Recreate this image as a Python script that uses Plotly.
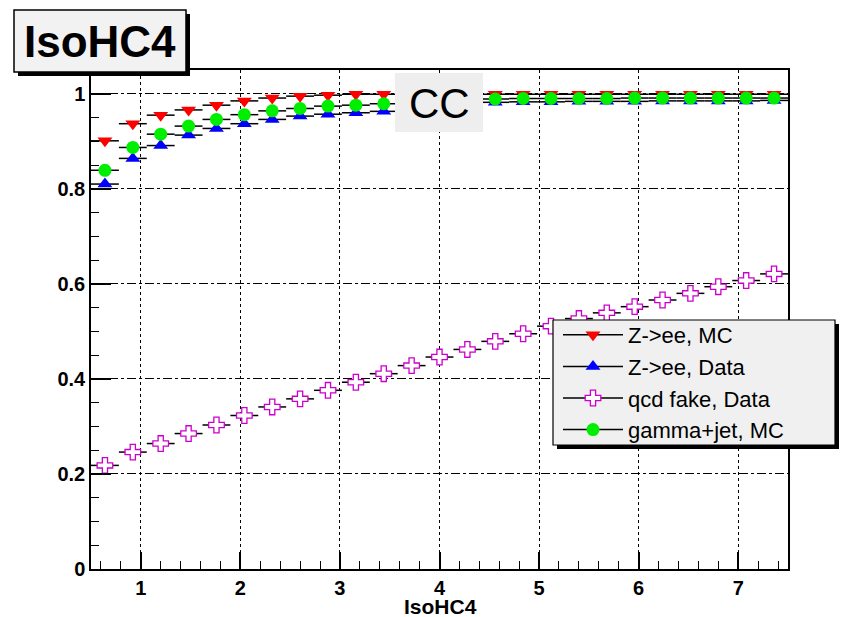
import plotly.graph_objects as go

# ---- data ----
x_centers = [0.64, 0.92, 1.20, 1.48, 1.76, 2.04, 2.32, 2.60, 2.88, 3.16, 3.44,
             3.72, 4.00, 4.28, 4.56, 4.84, 5.12, 5.40, 5.68, 5.96, 6.24, 6.52,
             6.80, 7.08, 7.36]
half_width = [0.14] * 25

zee_mc = [0.901, 0.937, 0.955, 0.966, 0.976, 0.985, 0.991, 0.995, 0.997, 0.999, 0.999,
          0.999, 0.999, 0.999, 0.999, 0.999, 0.999, 0.999, 0.999, 0.999, 0.999, 0.999,
          0.999, 0.999, 0.999]
zee_data = [0.810, 0.864, 0.891, 0.913, 0.927, 0.937, 0.946, 0.953, 0.957, 0.960, 0.963,
            0.968, 0.972, 0.976, 0.982, 0.983, 0.983, 0.984, 0.984, 0.984, 0.985, 0.985,
            0.985, 0.985, 0.986]
qcd_data = [0.218, 0.246, 0.264, 0.285, 0.303, 0.323, 0.341, 0.358, 0.376, 0.393, 0.411,
            0.428, 0.446, 0.462, 0.479, 0.495, 0.511, 0.527, 0.539, 0.552, 0.566, 0.580,
            0.594, 0.607, 0.621]
gj_mc = [0.839, 0.887, 0.915, 0.932, 0.946, 0.956, 0.964, 0.969, 0.974, 0.976, 0.979,
         0.982, 0.984, 0.986, 0.989, 0.990, 0.990, 0.990, 0.990, 0.991, 0.991, 0.991,
         0.991, 0.991, 0.991]

series_names = ["Z->ee, MC", "Z->ee, Data", "qcd fake, Data", "gamma+jet, MC"]
x_ticks = [1, 2, 3, 4, 5, 6, 7]
y_ticks = [0, 0.2, 0.4, 0.6, 0.8, 1]

FONT = "Liberation Sans, Arial, Helvetica, sans-serif"

# page body has an 8px margin; work in screenshot pixels and compensate
OFF = 8
W, H = 848 - OFF, 617 - OFF
L, R, T, B = 91 - OFF, 788 - OFF, 70 - OFF, 569 - OFF


def px(xp):
    return (xp - OFF - L) / (R - L)


def py(yp):
    return (B - (yp - OFF)) / (B - T)


fig = go.Figure()

styles = [
    dict(symbol="triangle-down", color="#ff0000", size=13, line=dict(width=0)),
    dict(symbol="triangle-up", color="#0000ff", size=13, line=dict(width=0)),
    dict(symbol="cross", color="white", size=13, line=dict(width=1.3, color="#cc00cc")),
    dict(symbol="circle", color="#00ee00", size=13, line=dict(width=0)),
]
values = [zee_mc, zee_data, qcd_data, gj_mc]

for name, vals, st in zip(series_names, values, styles):
    fig.add_trace(go.Scatter(
        x=x_centers, y=vals, mode="markers", name=name, showlegend=False,
        marker=st,
        error_x=dict(type="data", array=half_width, color="black", thickness=1.5, width=0),
    ))

for name, st in zip(series_names, styles):
    fig.add_trace(go.Scatter(
        x=[None], y=[None], mode="lines+markers", name=name,
        marker=st, line=dict(color="black", width=1.5),
    ))

shapes = []
# title box with shadow
shapes.append(dict(type="rect", xref="paper", yref="paper", layer="above",
                   x0=px(18), x1=px(190), y0=py(76), y1=py(14),
                   fillcolor="black", line=dict(width=0)))
shapes.append(dict(type="rect", xref="paper", yref="paper", layer="above",
                   x0=px(14), x1=px(186), y0=py(72), y1=py(10),
                   fillcolor="#f2f2f2", line=dict(color="black", width=1.5)))
# CC box
shapes.append(dict(type="rect", xref="paper", yref="paper", layer="above",
                   x0=px(395), x1=px(483), y0=py(132), y1=py(73),
                   fillcolor="#eeeeee", line=dict(width=0)))
# legend box with shadow
shapes.append(dict(type="rect", xref="paper", yref="paper", layer="above",
                   x0=px(557), x1=px(839), y0=py(449), y1=py(324),
                   fillcolor="black", line=dict(width=0)))
shapes.append(dict(type="rect", xref="paper", yref="paper", layer="above",
                   x0=px(553), x1=px(835), y0=py(445), y1=py(320),
                   fillcolor="#f0f0f0", line=dict(color="black", width=1.2)))

annotations = [
    dict(text="<b>IsoHC4</b>", xref="paper", yref="paper", x=px(100), y=py(42),
         xanchor="center", yanchor="middle", showarrow=False,
         font=dict(family=FONT, size=44, color="black")),
    dict(text="CC", xref="paper", yref="paper", x=px(439), y=py(104),
         xanchor="center", yanchor="middle", showarrow=False,
         font=dict(family=FONT, size=42, color="black")),
    dict(text="<b>IsoHC4</b>", xref="paper", yref="paper", x=px(440), y=py(606),
         xanchor="center", yanchor="middle", showarrow=False,
         font=dict(family=FONT, size=21, color="black")),
]

fig.update_layout(
    width=W, height=H,
    margin=dict(l=L, r=W - R, t=T, b=H - B, autoexpand=False),
    paper_bgcolor="white", plot_bgcolor="white",
    shapes=shapes, annotations=annotations,
    showlegend=True,
    legend=dict(x=px(558), y=py(314), xanchor="left", yanchor="top",
                bgcolor="rgba(0,0,0,0)", borderwidth=0,
                font=dict(family=FONT, size=22, color="black"),
                itemwidth=60, tracegroupgap=0),
    font=dict(family=FONT, color="black"),
)

fig.update_xaxes(
    range=[0.5, 7.5], tickvals=x_ticks,
    ticks="inside", ticklen=17, tickwidth=1.5, tickcolor="black",
    minor=dict(dtick=0.2, ticks="inside", ticklen=8, tickwidth=1.2, tickcolor="black", showgrid=False),
    showgrid=True, gridcolor="black", gridwidth=1, griddash="dot",
    showline=True, linecolor="black", linewidth=1.5, mirror=True,
    zeroline=False,
    tickfont=dict(family=FONT, size=20, color="black", weight="bold"),
)
fig.update_yaxes(
    range=[0, 1.05], tickvals=y_ticks,
    ticks="inside", ticklen=20, tickwidth=1.5, tickcolor="black",
    minor=dict(dtick=0.05, ticks="inside", ticklen=8, tickwidth=1.2, tickcolor="black", showgrid=False),
    showgrid=True, gridcolor="black", gridwidth=1, griddash="dashdot",
    showline=True, linecolor="black", linewidth=1.5, mirror=True,
    zeroline=False,
    tickfont=dict(family=FONT, size=20, color="black", weight="bold"),
)

fig.write_html("out.html")
